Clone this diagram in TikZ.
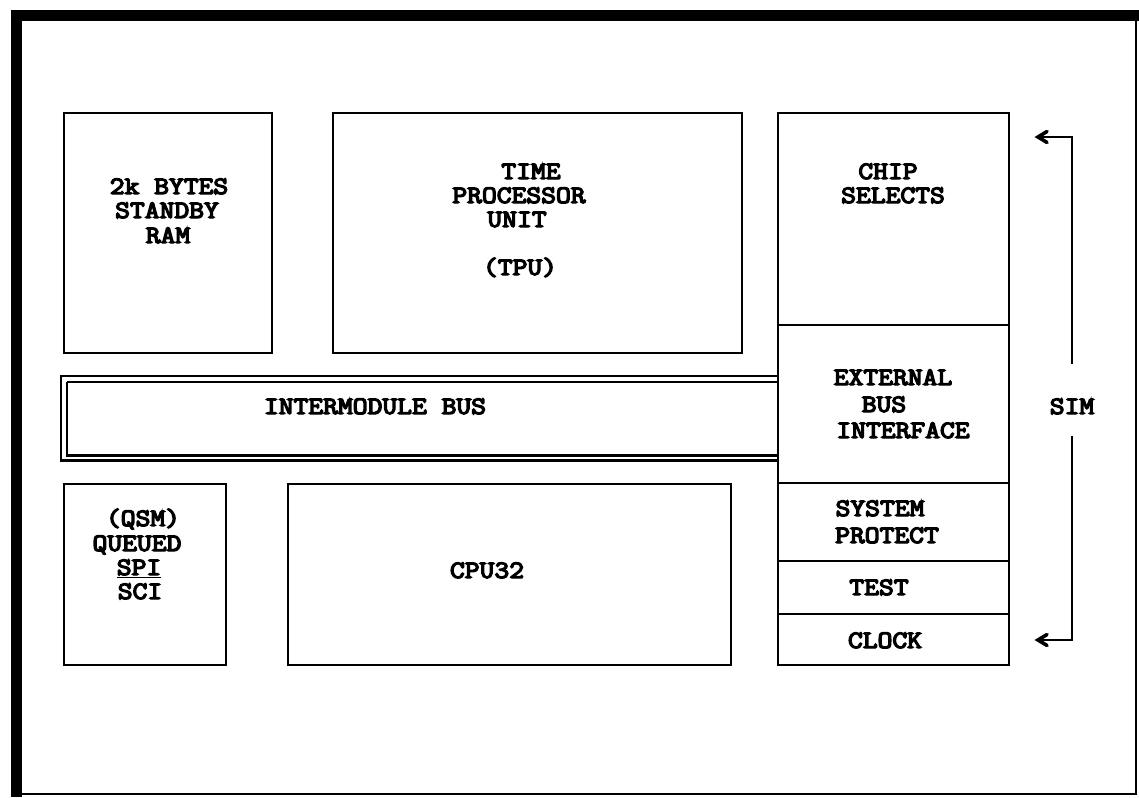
\documentclass[tikz,border=0pt]{standalone}
\usepackage{graphicx}
\usepackage{fontspec}
\newfontfamily\bmono[FakeBold=5]{Latin Modern Mono}
\usetikzlibrary{arrows.meta}
\newcommand\tx[1]{\scalebox{1.15}[1]{#1}}
\tikzset{
  blk/.style={draw, line width=2.6pt, rectangle, inner sep=0pt, outer sep=0pt, anchor=north west},
  txt/.style={font=\fontsize{25}{25}\selectfont\bmono, inner sep=0pt, anchor=base},
  busline/.style={line width=2.4pt},
  simline/.style={line width=2.8pt},
  chevron/.style={line width=3.6pt, line join=miter, line cap=round},
}
\begin{document}
\begin{tikzpicture}[x=1pt,y=-1pt]
\useasboundingbox (0,0) rectangle (1139,797);
% frame
\draw[line width=2.6pt] (16.5,794) -- (1136,794) -- (1136,15.5);
\draw[line width=11pt] (16.5,797) -- (16.5,15.5) -- (1139,15.5);
% boxes
\node[blk, minimum width=208pt, minimum height=240pt] (ram) at (64,113) {};
\node[blk, minimum width=409pt, minimum height=240pt] (tpu) at (333,113) {};
\node[blk, minimum width=231pt, minimum height=212pt] (chip) at (778,113) {};
\node[blk, minimum width=231pt, minimum height=158pt] (ebi) at (778,325) {};
\node[blk, minimum width=231pt, minimum height=78pt] (sysp) at (778,483) {};
\node[blk, minimum width=231pt, minimum height=53pt] (test) at (778,561) {};
\node[blk, minimum width=231pt, minimum height=51pt] (clock) at (778,614) {};
\node[blk, minimum width=162pt, minimum height=181pt] (qsm) at (64,484) {};
\node[blk, minimum width=443pt, minimum height=181pt] (cpu) at (288,484) {};
% intermodule bus
\node[inner sep=0pt, minimum width=717pt, minimum height=84pt, anchor=north west] (bus) at (61,376) {};
\draw[busline] (bus.north east) -- (bus.north west) -- (bus.south west) -- (bus.south east);
\draw[busline] ([xshift=6pt,yshift=-6pt]bus.north west) -- ([yshift=-6pt]bus.north east);
\draw[busline] ([xshift=6pt,yshift=-6pt]bus.north west) -- ([xshift=6pt,yshift=5pt]bus.south west) -- ([yshift=5pt]bus.south east);
% texts
\node[txt] (t1) at (169,194) {\tx{2k BYTES}};
\node[txt] (t2) at (167,218) {\tx{STANDBY}};
\node[txt] (t3) at (168,243) {\tx{RAM}};
\node[txt] (t4) at (531,179) {\tx{TIME}};
\node[txt] (t5) at (519,203) {\tx{PROCESSOR}};
\node[txt] (t6) at (517,227) {\tx{UNIT}};
\node[txt] (t7) at (520,275) {\tx{(TPU)}};
\node[txt] (t8) at (888,179) {\tx{CHIP}};
\node[txt] (t9) at (893,203) {\tx{SELECTS}};
\node[txt] (t10) at (893,385) {\tx{EXTERNAL}};
\node[txt] (t11) at (884,412) {\tx{BUS}};
\node[txt] (t12) at (903,438) {\tx{INTERFACE}};
\node[txt] (t13) at (375,414) {\tx{INTERMODULE BUS}};
\node[txt] (t14) at (880,516) {\tx{SYSTEM}};
\node[txt] (t15) at (887,543) {\tx{PROTECT}};
\node[txt] (t16) at (879,595) {\tx{TEST}};
\node[txt] (t17) at (885,648) {\tx{CLOCK}};
\node[txt] (t18) at (143,526) {\tx{(QSM)}};
\node[txt] (t19) at (137,551) {\tx{QUEUED}};
\node[txt] (t20) at (139,575) {\tx{\underline{SPI}}};
\node[txt] (t21) at (140,599) {\tx{SCI}};
\node[txt] (t22) at (487,578) {\tx{CPU32}};
\node[txt] (sim) at (1072,414) {\tx{SIM}};
% SIM bracket
\coordinate (s1) at ([yshift=34pt]sim.north);
\coordinate (s2) at ([yshift=-21pt]sim.south);
\coordinate (a1) at (1038,137);
\coordinate (a2) at (1038,640);
\draw[simline] (s1) |- ([xshift=4pt]a1);
\draw[simline] (s2) |- ([xshift=4pt]a2);
\draw[chevron] ([shift={(9,-5.5)}]a1) -- (a1) -- ([shift={(9,5.5)}]a1);
\draw[chevron] ([shift={(9,-5.5)}]a2) -- (a2) -- ([shift={(9,5.5)}]a2);
\end{tikzpicture}
\end{document}
